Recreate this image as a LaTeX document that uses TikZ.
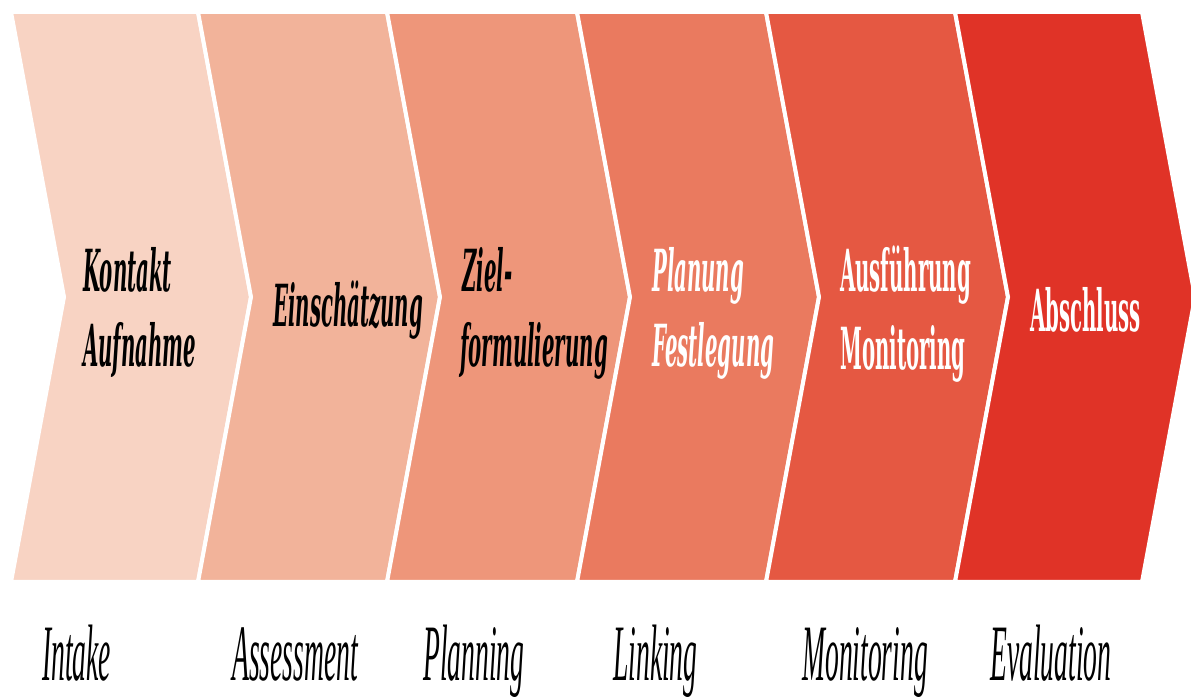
\documentclass[tikz,border=0pt]{standalone}
\usepackage{fontspec}
\usepackage{tikz}
\usepackage{xcolor}
\newfontfamily\phasefont[FakeStretch=0.34]{DejaVu Serif}
\newfontfamily\stagefont[FakeStretch=0.345]{Liberation Serif}
\definecolor{chevA}{HTML}{F8D3C3}
\definecolor{chevB}{HTML}{F2B39A}
\definecolor{chevC}{HTML}{EE967A}
\definecolor{chevD}{HTML}{EA7A5F}
\definecolor{chevE}{HTML}{E55842}
\definecolor{chevF}{HTML}{E03327}
\tikzset{
	chevron/.style={draw=white, line width=4pt, line join=miter},
	phase/.style={anchor=base west, inner sep=0pt, font=\phasefont\bfseries\itshape\fontsize{58}{75}\selectfont},
	phaseup/.style={phase, text=white, font=\phasefont\bfseries\fontsize{58}{75}\selectfont},
	stage/.style={anchor=base west, inner sep=0pt, font=\stagefont\itshape\fontsize{80}{90}\selectfont}
}

\begin{document}
\begin{tikzpicture}[x=1pt,y=1pt]
	\useasboundingbox (0,0) rectangle (1191,696);
	%chevrons
	\fill[chevA,chevron] (11,684)--(198,684)--(251,399)--(198,114)--(11,114)--(64,399)--cycle;
	\fill[chevB,chevron] (198,684)--(387,684)--(440,399)--(387,114)--(198,114)--(251,399)--cycle;
	\fill[chevC,chevron] (387,684)--(577,684)--(630,399)--(577,114)--(387,114)--(440,399)--cycle;
	\fill[chevD,chevron] (577,684)--(766,684)--(819,399)--(766,114)--(577,114)--(630,399)--cycle;
	\fill[chevE,chevron] (766,684)--(955,684)--(1008,399)--(955,114)--(766,114)--(819,399)--cycle;
	\fill[chevF,chevron] (955,684)--(1142,684)--(1195,399)--(1142,114)--(955,114)--(1008,399)--cycle;
	%phase labels
	\node[phase] (kontakt) at (83,404) {Kontakt};
	\node[phase] (aufnahme) at (83,329) {Aufnahme};
	\node[phase] (einsch) at (273,369) {Einschätzung};
	\node[phase] (ziel) at (462,404) {Ziel-};
	\node[phase] (formul) at (460,329) {formulierung};
	\node[phase, text=white] (planung) at (652,404) {Planung};
	\node[phase, text=white] (festl) at (652,329) {Festlegung};
	\node[phaseup] (ausf) at (840,404) {Ausführung};
	\node[phaseup] (monit) at (840,326) {Monitoring};
	\node[phaseup] (abschl) at (1030,364) {Abschluss};
	%case management steps
	\node[stage] (intake) at (42,16) {Intake};
	\node[stage] (assess) at (232,16) {Assessment};
	\node[stage] (plan) at (423,16) {Planning};
	\node[stage] (link) at (613,16) {Linking};
	\node[stage] (monitor) at (802,16) {Monitoring};
	\node[stage] (eval) at (990,16) {Evaluation};
\end{tikzpicture}
\end{document}
